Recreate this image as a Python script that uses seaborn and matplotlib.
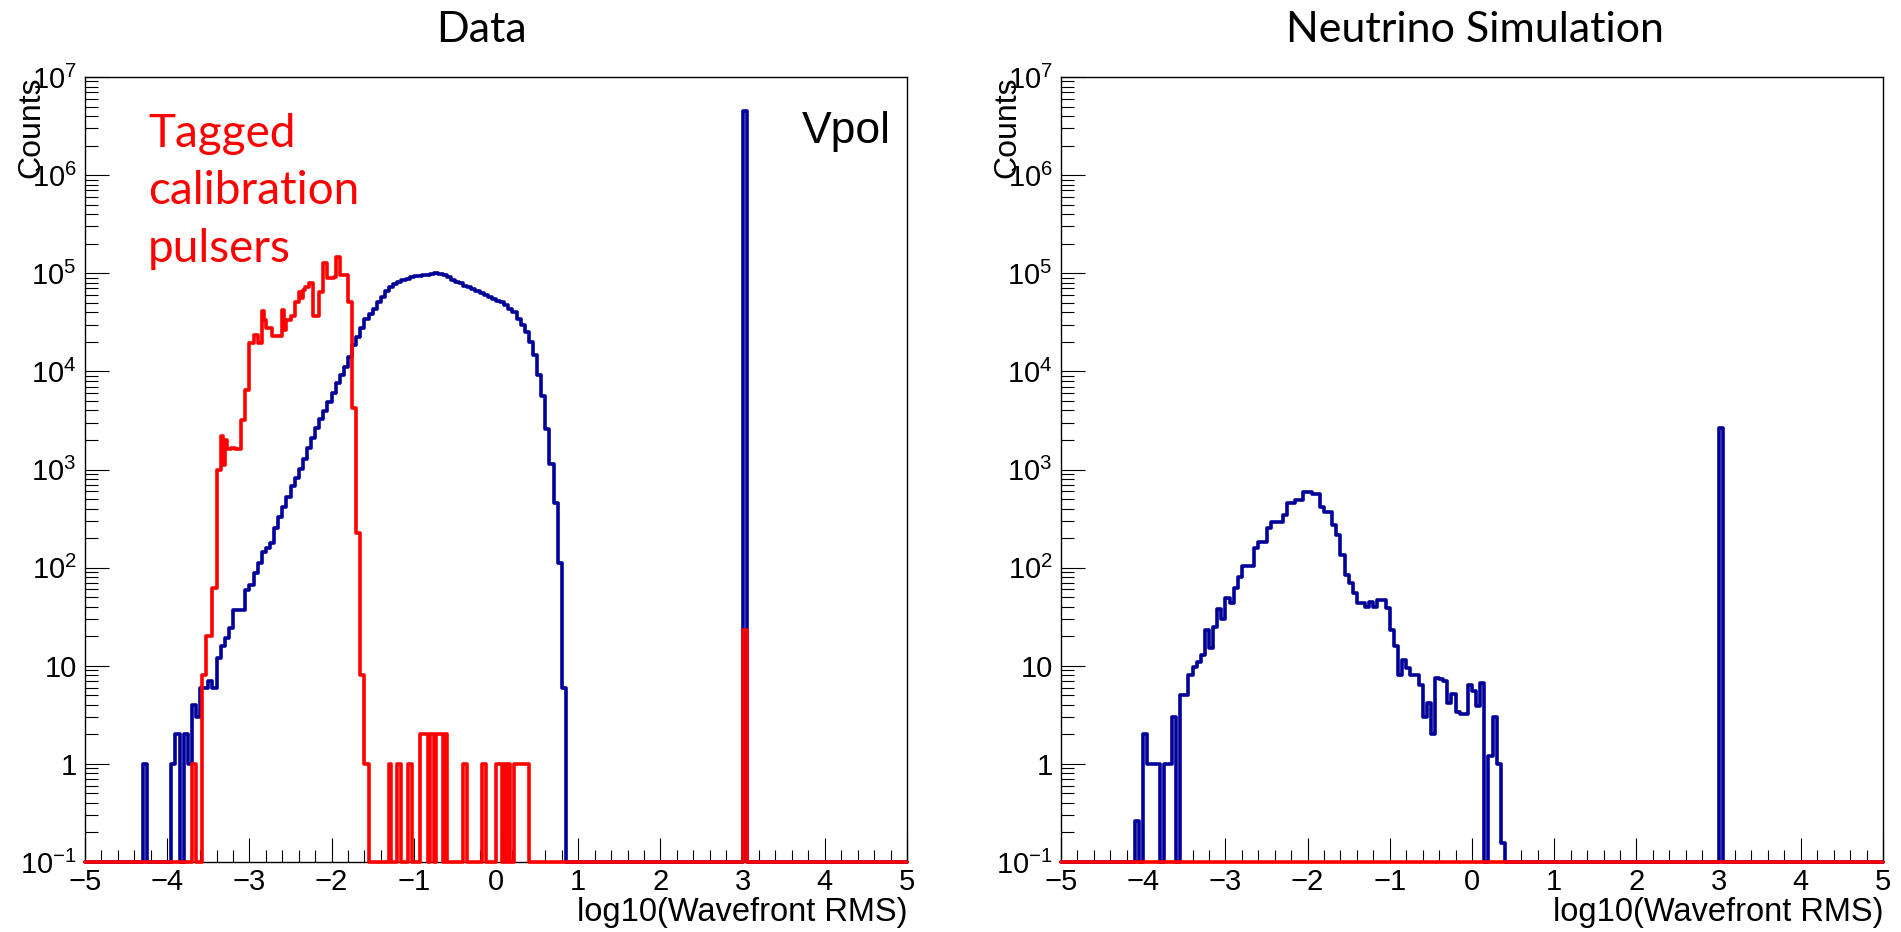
import numpy as np
import pandas as pd
import matplotlib
matplotlib.use("Agg")
import matplotlib.pyplot as plt
import seaborn as sns
from matplotlib.ticker import MultipleLocator, LogLocator, NullFormatter

sns.set_theme(style="ticks")
plt.rcParams["font.family"] = ["Liberation Sans", "DejaVu Sans"]
plt.rcParams["mathtext.fontset"] = "custom"
plt.rcParams["mathtext.rm"] = "Liberation Sans"
plt.rcParams["mathtext.it"] = "Liberation Sans:italic"
plt.rcParams["mathtext.bf"] = "Liberation Sans:bold"

# ---------------- axis ranges ----------------
X_MIN, X_MAX = -5.0, 5.0
Y_MIN, Y_MAX = 0.1, 1e7
FAIL_X, FAIL_W = 3.0, 0.05      # events with RMS = 1000 (fit failed)

# ---------------- Data, Vpol (0.05-wide bins from -4.30) ----------------
data_first_bin = -4.30
data_bin_width = 0.05
data_vpol_counts = [
    1, 0, 0, 0, 0, 0, 0, 1, 2, 0,
    2, 1, 4, 3, 6, 6, 7, 6, 12, 16,
    19, 24, 37, 37, 37, 59, 66, 89, 112, 145,
    158, 178, 251, 331, 417, 525, 676, 813, 1020, 1290,
    1660, 2090, 2630, 3240, 3980, 4900, 6030, 7590, 9120, 11200,
    14100, 18600, 22400, 27500, 33900, 38000, 43700, 51300, 57500, 66000,
    72000, 77000, 81000, 85000, 87000, 91000, 93000, 94000, 95000, 97000,
    98000, 100000, 99000, 95000, 91000, 86000, 82000, 79000, 74000, 72000,
    69000, 66000, 63000, 60000, 57000, 55000, 52500, 51000, 48000, 43500,
    40000, 34500, 30000, 25000, 20000, 14800, 9100, 5600, 2600, 1150,
    460, 112, 6,
]
data_vpol_fail = 4.5e6

# ---------------- Data, tagged calibration pulsers (0.025-wide bins from -3.70) ----------------
cal_first_bin = -3.70
cal_bin_width = 0.025
cal_pulser_counts = [
    1, 1, 0, 0, 0, 8, 8, 20,
    20, 20, 62, 62, 1000, 1000, 2200, 1100,
    2000, 1600, 1600, 1650, 1650, 1600, 1600, 1600,
    3200, 3200, 6500, 6500, 19500, 19500, 23500, 23500,
    19500, 19500, 41000, 33500, 27500, 27500, 27500, 23000,
    23000, 23000, 23000, 23000, 42500, 26300, 33000, 33000,
    36300, 36300, 51000, 51000, 64500, 56000, 67500, 73000,
    73000, 79500, 79500, 36300, 36300, 36300, 64500, 64500,
    126000, 126000, 89000, 89000, 89000, 91000, 148000, 148000,
    95500, 95500, 95500, 95500, 51300, 51300, 4200, 4200,
    224, 224, 8, 8, 1, 1, 0, 0,
    0, 0, 0, 0, 0, 0, 0, 0,
    1, 0, 0, 0, 1, 1, 0, 0,
    0, 1, 1, 0, 0, 0, 0, 2,
    2, 2, 2, 0, 2, 2, 0, 2,
    2, 2, 0, 2, 0, 0, 0, 0,
    0, 0, 0, 0, 1, 1, 0, 0,
    0, 0, 0, 0, 0, 1, 1, 0,
    0, 0, 0, 0, 1, 1, 1, 0,
    1, 0, 1, 0, 0, 1, 1, 1,
    1, 1, 1, 1,
]
cal_pulser_fail = 23

# ---------------- Neutrino simulation (0.05-wide bins from -4.10) ----------------
sim_first_bin = -4.10
sim_bin_width = 0.05
sim_counts = [
    0.26, 0, 2.0, 1, 1, 1, 0, 1, 1, 3,
    0, 5, 5, 8, 9.8, 11, 13, 23, 15, 25,
    38, 30, 49, 44, 62, 81, 104, 104, 104, 158,
    184, 184, 252, 295, 295, 295, 344, 460, 460, 490,
    490, 596, 596, 565, 565, 418, 372, 372, 272, 215,
    135, 84, 69, 55, 44, 44, 40, 45, 40, 47,
    47, 39, 23, 16, 8, 11.5, 9.4, 8, 8, 6.3,
    3, 4.2, 2, 7.5, 7.3, 7.0, 4.2, 5.2, 3.4, 3.2,
    3.2, 6.3, 5.5, 3.9, 6.6, 0, 1.2, 3, 1, 0.155,
]
sim_fail = 2650
sim_cal_counts = []          # no tagged pulsers in simulation
sim_cal_fail = 0

y_tick_values = [1e-1, 1, 10, 1e2, 1e3, 1e4, 1e5, 1e6, 1e7]
y_tick_labels = [r"$10^{-1}$", "1", "10", r"$10^{2}$", r"$10^{3}$",
                 r"$10^{4}$", r"$10^{5}$", r"$10^{6}$", r"$10^{7}$"]

BLUE = "#000099"
RED = "#ff0000"
LW = 2.6

W, H = 1901, 932
fig = plt.figure(figsize=(W / 100, H / 100), dpi=100)
fig.patch.set_facecolor("white")


def axes_px(left, top, width, height):
    return fig.add_axes([left / W, 1 - (top + height) / H, width / W, height / H])


def draw_hist(ax, first, width, counts, fail_count, color):
    nbins = int(round((X_MAX - X_MIN) / width))
    edges = np.linspace(X_MIN, X_MAX, nbins + 1)
    heights = np.zeros(nbins)
    i0 = int(round((first - X_MIN) / width))
    heights[i0:i0 + len(counts)] = counts
    j0 = int(round((FAIL_X - X_MIN) / width))
    heights[j0:j0 + int(round(FAIL_W / width))] = fail_count
    centers = 0.5 * (edges[:-1] + edges[1:])
    # empty bins sit on the frame floor of the log axis
    frame = pd.DataFrame({"x": centers, "w": np.clip(heights, Y_MIN, None)})
    sns.histplot(data=frame, x="x", weights="w", bins=edges.tolist(),
                 element="step", fill=False, color=color, linewidth=LW,
                 clip_on=False, zorder=3, ax=ax)


def style_axes(ax):
    ax.set_yscale("log")
    ax.set_xlim(X_MIN, X_MAX)
    ax.set_ylim(Y_MIN, Y_MAX)
    ax.set_xlabel("")
    ax.set_ylabel("")
    ax.set_facecolor("white")
    ax.grid(False)
    ax.xaxis.set_major_locator(MultipleLocator(1))
    ax.xaxis.set_minor_locator(MultipleLocator(0.2))
    ax.set_yticks(y_tick_values)
    ax.set_yticklabels(y_tick_labels)
    ax.yaxis.set_minor_locator(LogLocator(base=10, subs=np.arange(2, 10), numticks=30))
    ax.yaxis.set_minor_formatter(NullFormatter())
    for s in ax.spines.values():
        s.set_visible(True)
        s.set_linewidth(1.0)
        s.set_color("black")
    ax.tick_params(axis="both", which="both", direction="in", top=False,
                   right=False, colors="black", width=0.8, labelsize=21)
    ax.tick_params(axis="x", which="major", length=17, pad=4)
    ax.tick_params(axis="x", which="minor", length=8.5)
    ax.tick_params(axis="y", which="major", length=17.5, pad=6)
    ax.tick_params(axis="y", which="minor", length=9)


def fig_text(x, y, s, **kw):
    fig.text(x / W, 1 - y / H, s, **kw)


panels = [
    (85, "Data", 481, (data_first_bin, data_bin_width, data_vpol_counts, data_vpol_fail),
     (cal_first_bin, cal_bin_width, cal_pulser_counts, cal_pulser_fail)),
    (1061, "Neutrino Simulation", 1475, (sim_first_bin, sim_bin_width, sim_counts, sim_fail),
     (sim_first_bin, sim_bin_width, sim_cal_counts, sim_cal_fail)),
]

for left, title, title_x, blue_hist, red_hist in panels:
    ax = axes_px(left, 77, 822, 785)
    draw_hist(ax, *blue_hist, BLUE)
    draw_hist(ax, *red_hist, RED)
    style_axes(ax)
    fig_text(title_x, 42, title, ha="center", va="baseline", fontsize=31,
             family=["Lato", "DejaVu Sans"], color="black")
    fig_text(left - 54, 77, "Counts", rotation=90, ha="center", va="top",
             fontsize=23, color="black")
    fig_text(left + 822, 921, "log10(Wavefront RMS)", ha="right", va="baseline",
             fontsize=23.5, color="black")

fig_text(802, 143, "Vpol", ha="left", va="baseline", fontsize=32, color="black")
for k, line in enumerate(["Tagged", "calibration", "pulsers"]):
    fig_text(148, 147 + 57.5 * k, line, ha="left", va="baseline", fontsize=33,
             family=["Lato", "DejaVu Sans"], color=RED)

fig.savefig("out.png", dpi=100, facecolor="white")
